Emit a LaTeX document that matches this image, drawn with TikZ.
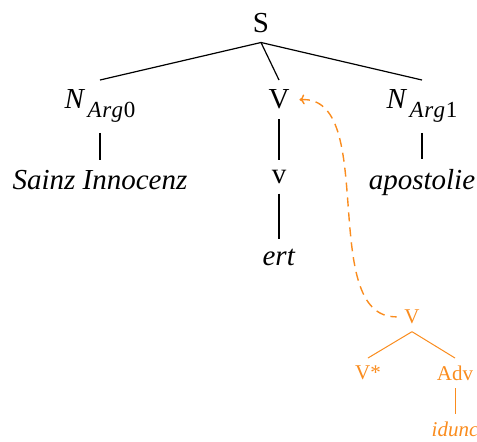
\documentclass[tikz,border=0pt]{standalone}
\usepackage{fontspec}
\setmainfont{Liberation Serif}
\usepackage{tikz}
\usetikzlibrary{arrows.meta}
\definecolor{O}{RGB}{250,140,30}
\newcommand{\bigfont}{\fontsize{14.5}{17}\selectfont}
\newcommand{\smallfont}{\fontsize{10.5}{12}\selectfont}
\newcommand{\argsub}[1]{\textit{N}\kern1.2pt\raisebox{-4.5pt}{\fontsize{11.5}{13}\selectfont\textit{A\kern0.3pt r\kern0.2pt g}\kern0.3pt#1}}
\newcommand{\drawedge}{\draw[line width=0.6pt]}
\newcommand{\drawadj}{\draw[line width=0.5pt,O]}
\tikzset{lab/.style={font=\bigfont,inner sep=4.8pt,anchor=north},
  adjlab/.style={font=\smallfont,text=O,inner sep=3.7pt,anchor=north}}

\begin{document}
\begin{tikzpicture}[x=0.5pt,y=-0.5pt]
\useasboundingbox (0,0) rectangle (477,441);
\node[lab] (S) at (261,3) {S};
\node[lab] (narg0) at (100,80) {\argsub{0}};
\node[lab] (V) at (279,80) {V};
\node[lab] (narg1) at (422,80) {\argsub{1}};
\node[lab] (sainz) at (100,160) {\textit{Sainz Innocenz}};
\node[lab] (v) at (279,160) {v};
\node[lab] (apost) at (422,159) {\textit{apostolie}};
\node[lab] (ert) at (279,239) {\textit{ert}};
\drawedge (S.south)--(narg0.north);
\drawedge (S.south)--(V.north);
\drawedge (S.south)--(narg1.north);
\drawedge (narg0.south)--(sainz.north);
\drawedge (V.south)--(v.north);
\drawedge (narg1.south)--(apost.north);
\drawedge (v.south)--(ert.north);
\node[adjlab] (adjV) at (412,302) {V};
\node[adjlab] (vstar) at (368,358) {V*};
\node[adjlab] (adv) at (455,358) {Adv};
\node[adjlab] (idunc) at (455,414) {\textit{idunc}};
\drawadj (adjV.south)--(vstar.north);
\drawadj (adjV.south)--(adv.north);
\drawadj (adv.south)--(idunc.north);
\draw[line width=0.7pt,O,dash pattern=on 4.5pt off 3pt,{To[length=2.5pt,width=5pt]}-] (V.east) .. controls +(80,-5) and +(-80,1) .. (adjV.west);
\end{tikzpicture}
\end{document}
